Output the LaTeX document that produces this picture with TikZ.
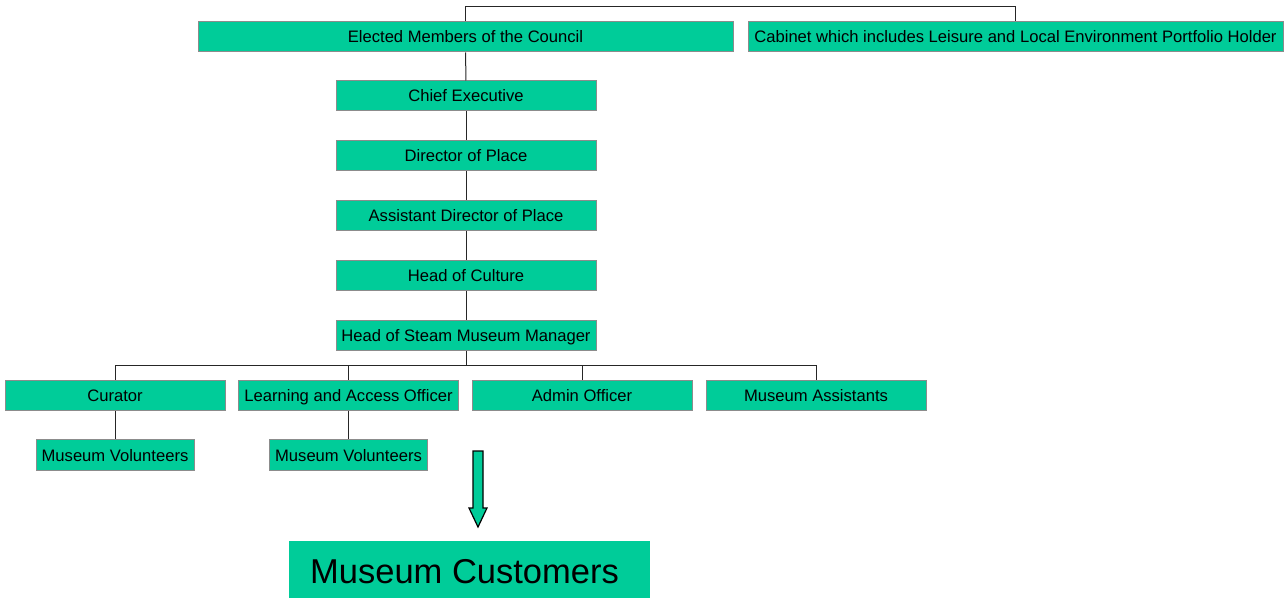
\documentclass[tikz,border=0pt]{standalone}
\usepackage{fontspec}
\setmainfont{Liberation Sans}
\definecolor{museumgreen}{HTML}{00CC99}
\begin{document}
\begin{tikzpicture}[
    x=1pt, y=-1pt,
    post/.style={draw=black!45, fill=museumgreen, line width=1pt, minimum height=30pt, inner sep=0pt, text height=12pt, text depth=0pt, font=\fontsize{16.6}{20}\selectfont},
    wide/.style={post, minimum width=535pt},
    mid/.style={post, minimum width=260pt},
    staff/.style={post, minimum width=220pt},
    vol/.style={post, minimum width=158pt, minimum height=31pt},
    link/.style={draw=black!85, line width=1pt}
]
\useasboundingbox (0,0) rectangle (1288,599);

% Council level (top)
\node[wide] (elected) at (465.5,37) {Elected Members of the Council};
\node[wide] (cabinet) at (1015.5,37) {Cabinet which includes Leisure and Local Environment Portfolio Holder};

% Management chain
\node[mid] (chief) at (466,96) {Chief Executive};
\node[mid] (director) at (466,156) {Director of Place};
\node[mid] (assistant) at (466,215) {Assistant Director of Place};
\node[mid] (culture) at (466,275) {Head of Culture};
\node[mid] (steam) at (466,335) {Head of Steam Museum Manager};

% Museum staff
\node[staff] (curator) at (115,395) {Curator};
\node[staff] (learning) at (348.5,395) {Learning and Access Officer};
\node[staff] (admin) at (582,395) {Admin Officer};
\node[staff] (assistants) at (816,395) {Museum Assistants};

% Volunteers
\node[vol] (volA) at (115,455) {Museum Volunteers};
\node[vol] (volB) at (348.5,455) {Museum Volunteers};

% Customers
\node[fill=museumgreen, minimum width=361pt, minimum height=57pt, inner sep=0pt, text height=27pt, text depth=0pt, font=\fontsize{34.5}{40}\selectfont] (customers) at (469.5,569.5) {\hspace*{-10pt}Museum Customers};

% Links
\draw[link] (elected.north) -- ++(0,-15) -| (cabinet.north);
\draw[link] (elected) -- (chief);
\draw[link] (chief) -- (director);
\draw[link] (director) -- (assistant);
\draw[link] (assistant) -- (culture);
\draw[link] (culture) -- (steam);
\draw[link] (steam.south) -- ++(0,15) -| (curator.north);
\draw[link] (steam.south) ++(0,15) -| (learning.north);
\draw[link] (steam.south) ++(0,15) -| (admin.north);
\draw[link] (steam.south) ++(0,15) -| (assistants.north);
\draw[link] (curator) -- (volA);
\draw[link] (learning) -- (volB);

% Block arrow towards customers
\draw[fill=museumgreen, line width=1.2pt, line join=miter] (473,451) -- (483,451) -- (483,508) -- (487,508) -- (478,527) -- (469,508) -- (473,508) -- cycle;
\end{tikzpicture}
\end{document}
